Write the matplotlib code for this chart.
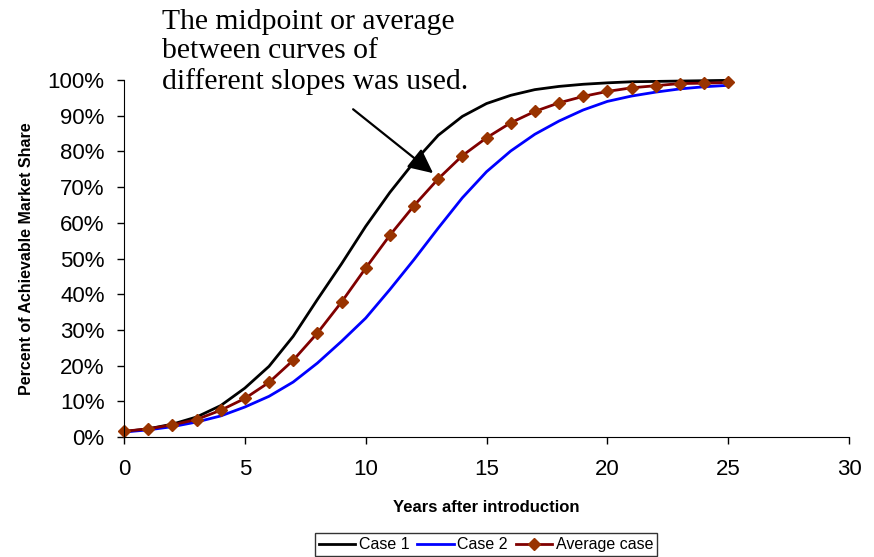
import matplotlib.pyplot as plt
from matplotlib.ticker import PercentFormatter

# Years after introduction
years = list(range(26))

# Percent of achievable market share
case1 = [1.5, 2.3, 3.6, 5.6, 8.8, 13.7, 19.8, 28.2, 38.5, 48.5, 59.0, 68.5, 77.0,
         84.5, 89.8, 93.4, 95.7, 97.3, 98.2, 98.8, 99.2, 99.5, 99.6, 99.7, 99.8, 99.9]
case2 = [1.4, 2.0, 2.9, 4.2, 5.9, 8.4, 11.4, 15.4, 20.7, 26.8, 33.3, 41.3, 49.7,
         58.5, 67.0, 74.3, 80.1, 84.8, 88.5, 91.6, 94.0, 95.5, 96.6, 97.5, 98.1, 98.5]
average = [1.6, 2.3, 3.4, 4.9, 7.5, 10.8, 15.3, 21.5, 29.1, 37.8, 47.3, 56.5, 64.8,
           72.3, 78.8, 83.8, 88.0, 91.2, 93.6, 95.4, 96.8, 97.8, 98.4, 99.0, 99.1, 99.3]

plt.rcParams['font.family'] = ['Liberation Sans', 'DejaVu Sans']

fig = plt.figure(figsize=(8.74, 5.57), dpi=100)
ax = fig.add_axes([0.1419, 0.2154, 0.8295, 0.641])

ax.plot(years, case1, color='black', lw=2.0, label='Case 1')
ax.plot(years, case2, color='#0000ff', lw=2.0, label='Case 2')
ax.plot(years, average, color='#800000', lw=2.0, marker='D', markersize=6,
        markerfacecolor='#993300', markeredgecolor='#993300', label='Average case')

ax.set_xlim(0, 30)
ax.set_ylim(0, 100)
ax.set_xticks(range(0, 31, 5))
ax.set_yticks(range(0, 101, 10))
ax.yaxis.set_major_formatter(PercentFormatter(decimals=0))
ax.tick_params(labelsize=16, direction='out', length=5, width=1)
ax.tick_params(axis='x', pad=11)
ax.tick_params(axis='y', pad=9)
ax.spines['top'].set_visible(False)
ax.spines['right'].set_visible(False)
for l in ax.lines:
    l.set_clip_on(False)

ax.set_xlabel('Years after introduction', fontsize=12, fontweight='bold', labelpad=14)
ax.set_ylabel('Percent of Achievable Market Share', fontsize=11.5, fontweight='bold', labelpad=10)

# Annotation with arrow
fig.text(162 / 874, 1 - 9 / 557,
         'The midpoint or average\nbetween curves of\ndifferent slopes was used.',
         family='Liberation Serif', fontsize=21.3, va='top', ha='left', linespacing=1.16)
ax.annotate('', xy=(12.79, 73.9), xytext=(9.48, 91.8),
            arrowprops=dict(arrowstyle='-|>,head_length=1.5,head_width=0.72',
                            color='black', lw=1.6, shrinkA=0, shrinkB=0))

leg = fig.legend(loc='center', bbox_to_anchor=(0.556, 0.022), ncol=3, fontsize=11.5,
                 frameon=True, fancybox=False, edgecolor='black', handlelength=2.3,
                 columnspacing=0.5, handletextpad=0.2, borderpad=0.25)
leg.get_frame().set_linewidth(1)

fig.savefig('out.png', dpi=100)
